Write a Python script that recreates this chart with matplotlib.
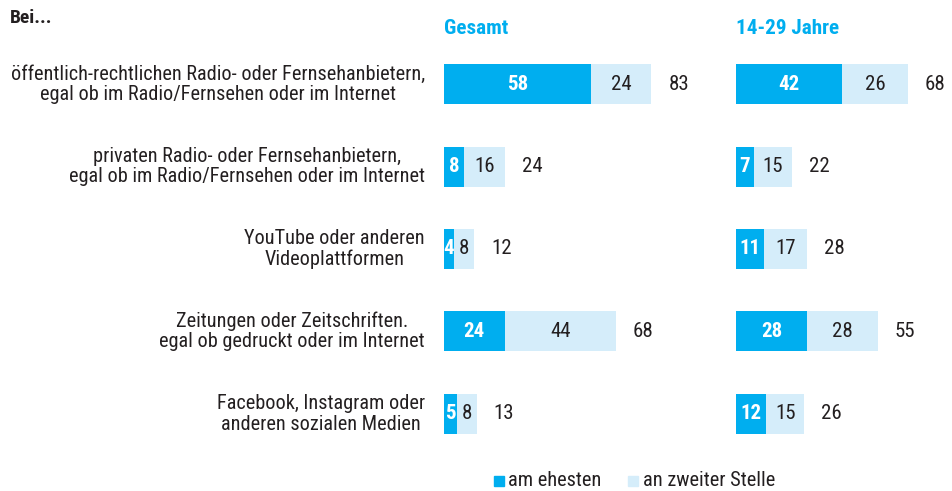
import matplotlib
matplotlib.use("Agg")
import matplotlib.pyplot as plt
from matplotlib.patches import Rectangle

plt.rcParams['font.family'] = ['Roboto Condensed', 'Roboto', 'DejaVu Sans']

# Daten
kategorien = [
    "öffentlich-rechtlichen Radio- oder Fernsehanbietern,\negal ob im Radio/Fernsehen oder im Internet",
    "privaten Radio- oder Fernsehanbietern,\negal ob im Radio/Fernsehen oder im Internet",
    "YouTube oder anderen\nVideoplattformen",
    "Zeitungen oder Zeitschriften.\negal ob gedruckt oder im Internet",
    "Facebook, Instagram oder\nanderen sozialen Medien",
]
gesamt_ehesten = [58, 8, 4, 24, 5]
gesamt_zweite = [24, 16, 8, 44, 8]
gesamt_summe = [83, 24, 12, 68, 13]
jung_ehesten = [42, 7, 11, 28, 12]
jung_zweite = [26, 15, 17, 28, 15]
jung_summe = [68, 22, 28, 55, 26]

DUNKEL = "#00aeef"
HELL = "#d5edfa"
TEXT = "#231f20"

W, H = 952, 491
fig = plt.figure(figsize=(W / 100, H / 100), dpi=100)

px = 2.53  # pixel pro Prozentpunkt
top, bottom = 43, 455


def panel(x0, x1, ehesten, zweite, summe, titel):
    ax = fig.add_axes([x0 / W, 1 - bottom / H, (x1 - x0) / W, (bottom - top) / H])
    ax.set_xlim(0, (x1 - x0) / px)
    ax.set_ylim(len(ehesten) - 0.5, -0.5)
    ax.axis("off")
    y = range(len(ehesten))
    ax.barh(y, ehesten, height=0.485, color=DUNKEL)
    ax.barh(y, zweite, left=ehesten, height=0.485, color=HELL)
    for i in y:
        ax.text(ehesten[i] / 2, i, str(ehesten[i]), ha="center", va="center",
                color="white", fontsize=15, fontweight="bold", clip_on=False)
        ax.text(ehesten[i] + zweite[i] / 2, i, str(zweite[i]), ha="center", va="center",
                color=TEXT, fontsize=15, clip_on=False)
        ax.text(ehesten[i] + zweite[i] + 6.7, i, str(summe[i]), ha="left", va="center",
                color=TEXT, fontsize=15, clip_on=False)
    fig.text(x0 / W, 1 - 28 / H, titel, ha="left", va="center", color=DUNKEL,
             fontsize=15.2, fontweight="bold")
    return ax


ax1 = panel(444, 720, gesamt_ehesten, gesamt_zweite, gesamt_summe, "Gesamt")
ax2 = panel(736, 952, jung_ehesten, jung_zweite, jung_summe, "14-29 Jahre")

for i, k in enumerate(kategorien):
    ax1.text(-19 / px, i, k, ha="right", va="center", multialignment="center",
             color=TEXT, fontsize=14.6, linespacing=1.1, clip_on=False)

fig.text(10 / W, 1 - 18 / H, "Bei...", ha="left", va="center", color=TEXT,
         fontsize=14, fontweight="bold")

# Legende
ly = 481
fig.patches.append(Rectangle((494 / W, 1 - (ly + 5) / H), 10 / W, 10 / H,
                             transform=fig.transFigure, color=DUNKEL))
fig.text(508 / W, 1 - ly / H, "am ehesten", ha="left", va="center", color=TEXT, fontsize=14.7)
fig.patches.append(Rectangle((628 / W, 1 - (ly + 5) / H), 10 / W, 10 / H,
                             transform=fig.transFigure, color=HELL))
fig.text(643 / W, 1 - ly / H, "an zweiter Stelle", ha="left", va="center", color=TEXT, fontsize=14.7)

fig.savefig("out.png", dpi=100)
